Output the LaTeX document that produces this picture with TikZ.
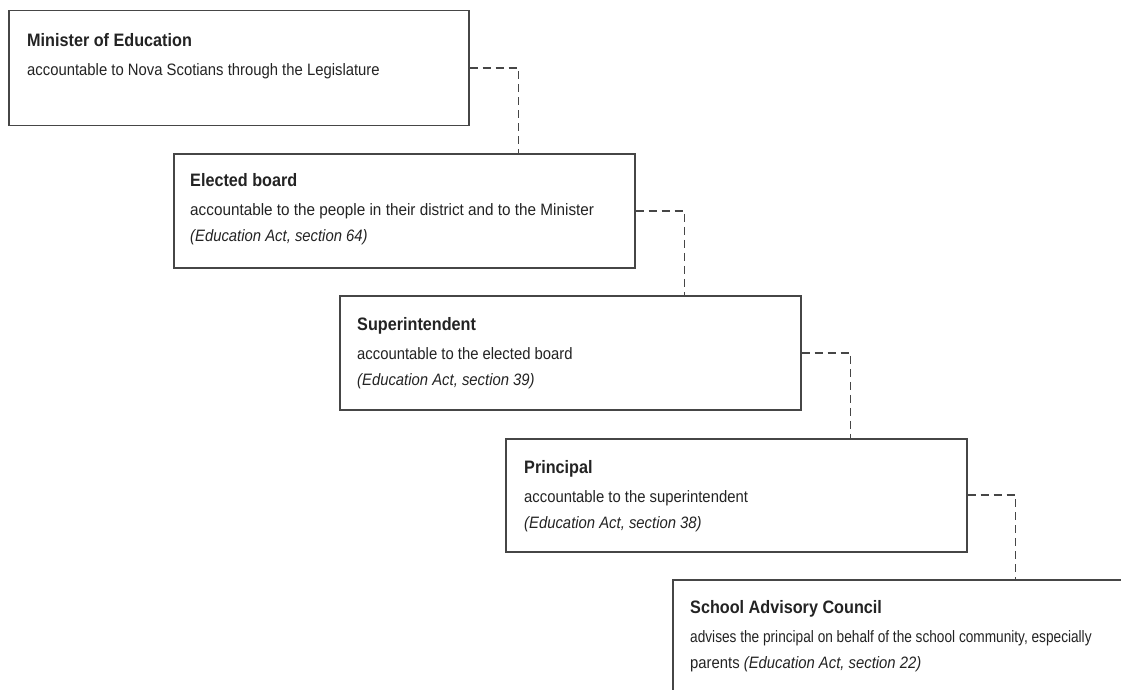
\documentclass[tikz,border=0pt]{standalone}
\usepackage{fontspec}
\setmainfont[FakeStretch=0.9]{Liberation Sans}
\definecolor{boxgray}{RGB}{70,70,70}
\definecolor{textgray}{RGB}{35,35,35}

\begin{document}
\begin{tikzpicture}[x=1pt,y=-1pt,
    box/.style={draw=boxgray,line width=1.5pt,rectangle,anchor=north west,inner sep=0pt},
    txt/.style={anchor=north west,align=left,inner sep=0pt,text=textgray,
      font=\fontsize{16.5}{25.5}\selectfont},
    link/.style={draw=boxgray,line width=1.7pt,dash pattern=on 8pt off 5pt}]
  \clip (0,0) rectangle (1121,690);

  % boxes:
  \node[box,minimum width=460pt,minimum height=115pt] (minister) at (8,10) {};
  \node[box,minimum width=461pt,minimum height=114pt] (board) at (173,153) {};
  \node[box,minimum width=461pt,minimum height=114pt] (superint) at (339,295) {};
  \node[box,minimum width=461pt,minimum height=113pt] (principal) at (505,438) {};
  \node[box,minimum width=470pt,minimum height=140pt] (council) at (672,579) {};

  % texts:
  \node[txt] (ministertxt) at ([shift={(19,23)}]minister.north west)
    {{\bfseries\fontsize{18}{26}\selectfont Minister of Education}\\[4pt]
     accountable to Nova Scotians through the Legislature};
  \node[txt] (boardtxt) at ([shift={(17,20)}]board.north west)
    {{\bfseries\fontsize{18}{26}\selectfont Elected board}\\[4pt]
     \scalebox{1.03}[1]{accountable to the people in their district and to the Minister}\\
     \itshape (Education Act, section 64)};
  \node[txt] (superinttxt) at ([shift={(18,22)}]superint.north west)
    {{\bfseries\fontsize{18}{26}\selectfont Superintendent}\\[4pt]
     accountable to the elected board\\
     \itshape (Education Act, section 39)};
  \node[txt] (principaltxt) at ([shift={(19,22)}]principal.north west)
    {{\bfseries\fontsize{18}{26}\selectfont Principal}\\[4pt]
     accountable to the superintendent\\
     \itshape (Education Act, section 38)};
  \node[txt] (counciltxt) at ([shift={(18,21)}]council.north west)
    {{\bfseries\fontsize{18}{26}\selectfont School Advisory Council}\\[4pt]
     \scalebox{0.92}[1]{advises the principal on behalf of the school community, especially}\\
     parents {\itshape (Education Act, section 22)}};

  % dashed links:
  \coordinate (m1) at ([xshift=49pt]minister.east);
  \draw[link] (minister.east) -- (m1) -- (m1 |- board.north);
  \coordinate (b1) at ([xshift=49pt]board.east);
  \draw[link] (board.east) -- (b1) -- (b1 |- superint.north);
  \coordinate (s1) at ([xshift=49pt]superint.east);
  \draw[link] (superint.east) -- (s1) -- (s1 |- principal.north);
  \coordinate (p1) at ([xshift=48pt]principal.east);
  \draw[link] (principal.east) -- (p1) -- (p1 |- council.north);
\end{tikzpicture}
\end{document}
